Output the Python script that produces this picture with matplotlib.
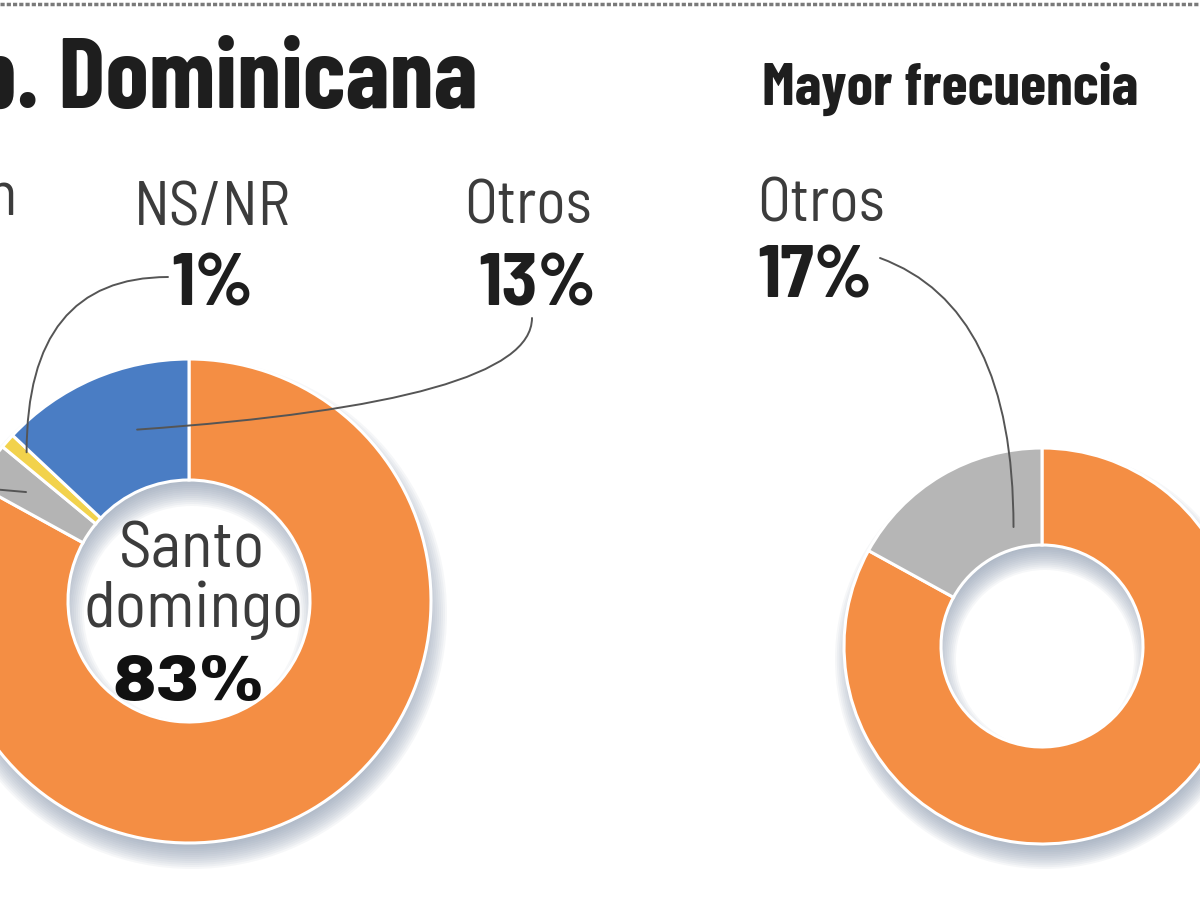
import numpy as np
import matplotlib
matplotlib.use("Agg")
import matplotlib.pyplot as plt
from matplotlib.patches import Wedge

# Rep. Dominicana: donde (izquierda) y mayor frecuencia (derecha)
rd_labels = ["Santo domingo", "Otra región", "NS/NR", "Otros"]
rd_values = [83, 3, 1, 13]
rd_colors = ["#f48e44", "#b4b4b4", "#f2d24c", "#4a7dc4"]

freq_labels = ["Mayor frecuencia", "Otros"]
freq_values = [83, 17]
freq_colors = ["#f48e44", "#b6b6b6"]

W, H = 1200, 900
COND = ["Barlow Condensed", "DejaVu Sans"]
SEMI = ["Barlow Semi Condensed", "DejaVu Sans"]
HEAVY = ["Archivo Black", "DejaVu Sans"]
TXT_LIGHT = "#3c3c3c"
TXT_BOLD = "#1e1e1e"
LEADER = "#555555"


def py(y):
    # layout positions are measured from the top of the picture
    return H - y


def drop_shadow(ax, center, r_out, r_in, dx=3, dy=-13, blur=13, steps=14,
                color="#8797ad", alpha=0.65):
    cx, cy = center[0] + dx, center[1] + dy
    for k in range(steps):
        e = blur * (2.0 * k / (steps - 1) - 1.0)
        ro = r_out + e
        ri = max(r_in - e, 0)
        ax.add_patch(Wedge((cx, cy), ro, 0, 360, width=ro - ri,
                           facecolor=color, edgecolor="none",
                           alpha=alpha / steps * 1.6, zorder=1))


def anchor(w, fa, fr):
    th = np.deg2rad(w.theta1 + fa * (w.theta2 - w.theta1))
    rr = (w.r - w.width) + fr * w.width
    return (w.center[0] + rr * np.cos(th), w.center[1] + rr * np.sin(th))


def leader(ax, start, end, style):
    ax.annotate("", xy=end, xytext=start, xycoords="data", textcoords="data",
                zorder=6,
                arrowprops=dict(arrowstyle="-", color=LEADER, lw=1.4,
                                shrinkA=0, shrinkB=0, connectionstyle=style))


fig = plt.figure(figsize=(12, 9), dpi=100)
ax = fig.add_axes([0, 0, 1, 1])

# left donut
c1, R1, r1 = (189, py(601)), 242, 121
drop_shadow(ax, c1, R1, r1)
w1, _ = ax.pie(rd_values, colors=rd_colors, startangle=90, counterclock=False,
               radius=R1, center=c1,
               wedgeprops=dict(width=R1 - r1, edgecolor="white", linewidth=2.2,
                               zorder=2))

# right donut
c2, R2, r2 = (1042, py(646)), 198, 101
drop_shadow(ax, c2, R2, r2, blur=12)
w2, _ = ax.pie(freq_values, colors=freq_colors, startangle=90, counterclock=False,
               radius=R2, center=c2,
               wedgeprops=dict(width=R2 - r2, edgecolor="white", linewidth=2.2,
                               zorder=2))

ax.set_xlim(0, W)
ax.set_ylim(0, H)
ax.set_aspect("equal")
ax.axis("off")

# dashed rule at the top
ax.axhline(py(4), color="#7a7a7a", lw=2.5, ls=(0, (1.2, 0.6)))

# titles
ax.text(478, py(108), "Rep. Dominicana", family=COND, fontweight="bold",
        fontsize=71, color=TXT_BOLD, ha="right", va="baseline")
ax.text(762, py(105), freq_labels[0], family=COND, fontweight="bold",
        fontsize=43, color=TXT_BOLD, ha="left", va="baseline")

# centre label
ax.text(c1[0] + 3, py(567), "Santo", family=SEMI, fontweight="normal",
        fontsize=47, color=TXT_LIGHT, ha="center", va="baseline", zorder=5)
ax.text(c1[0] + 5, py(627), "domingo", family=SEMI, fontweight="normal",
        fontsize=47, color=TXT_LIGHT, ha="center", va="baseline", zorder=5)
ax.text(c1[0], py(700), f"{rd_values[0]}%", family=HEAVY,
        fontsize=47, color="#111111", ha="center", va="baseline", zorder=5)

# outer labels, left donut
ax.text(528, py(223), rd_labels[3], family=SEMI, fontweight="normal",
        fontsize=44, color=TXT_LIGHT, ha="center", va="baseline")
ax.text(537, py(305), f"{rd_values[3]}%", family=SEMI, fontweight="bold",
        fontsize=53, color=TXT_BOLD, ha="center", va="baseline")
ax.text(212, py(226), rd_labels[2], family=SEMI, fontweight="normal",
        fontsize=44, color=TXT_LIGHT, ha="center", va="baseline")
ax.text(212, py(305), f"{rd_values[2]}%", family=SEMI, fontweight="bold",
        fontsize=53, color=TXT_BOLD, ha="center", va="baseline")
ax.text(17, py(215), rd_labels[1], family=SEMI, fontweight="normal",
        fontsize=44, color=TXT_LIGHT, ha="right", va="baseline")
ax.text(-8, py(305), f"{rd_values[1]}%", family=SEMI, fontweight="bold",
        fontsize=53, color=TXT_BOLD, ha="right", va="baseline")

# outer label, right donut
ax.text(757, py(222), freq_labels[1], family=SEMI, fontweight="normal",
        fontsize=44, color=TXT_LIGHT, ha="left", va="baseline")
ax.text(757, py(297), f"{freq_values[1]}%", family=SEMI, fontweight="bold",
        fontsize=53, color=TXT_BOLD, ha="left", va="baseline")

# leader lines
leader(ax, (532, py(318)), anchor(w1[3], 0.36, 0.48), "angle3,angleA=90,angleB=4")
leader(ax, (168, py(277)), anchor(w1[2], 0.2, 0.82), "angle3,angleA=0,angleB=90")
leader(ax, (-20, py(488)), anchor(w1[1], 0.54, 0.62), "arc3,rad=0")
leader(ax, (880, py(258)), anchor(w2[1], 0.22, 0.22), "angle3,angleA=-20,angleB=90")

fig.savefig("out.png", dpi=100, facecolor="white")
